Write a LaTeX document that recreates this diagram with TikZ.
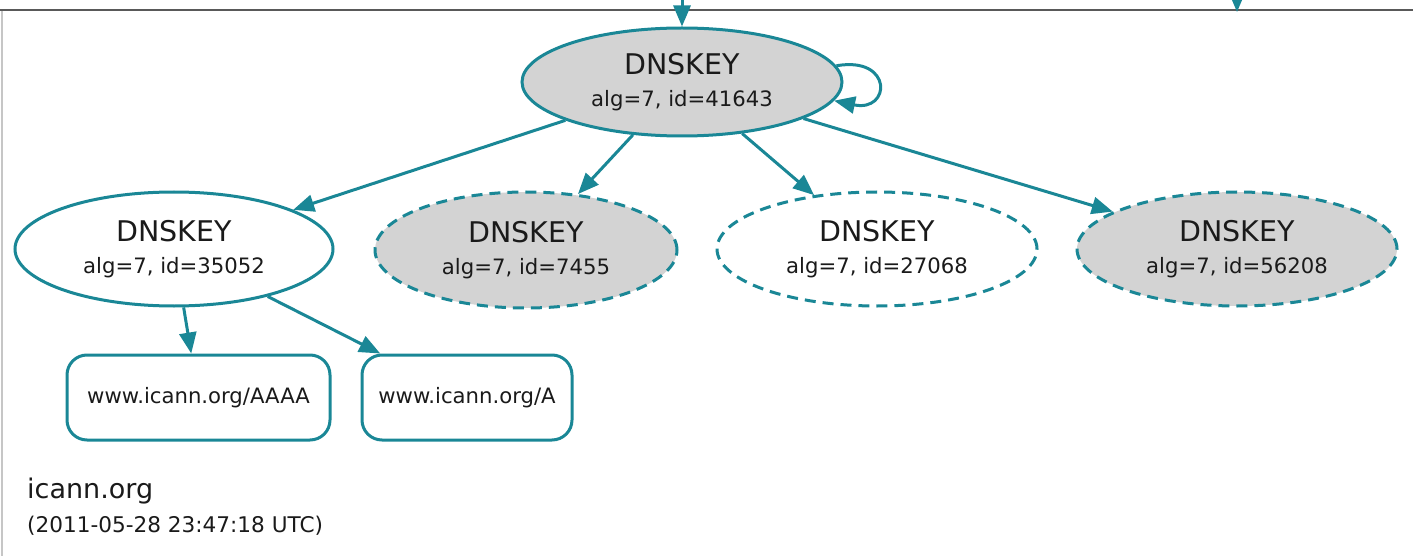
\documentclass[tikz,border=0pt]{standalone}
\usepackage{fontspec}
\setmainfont{DejaVu Sans}
\usetikzlibrary{shapes.geometric,arrows.meta}
\definecolor{teal1}{HTML}{1A8796}
\definecolor{fillg}{HTML}{D3D3D3}
\definecolor{txt}{HTML}{1A1A1A}
\tikzset{
  key/.style={ellipse, draw=teal1, line width=3pt, inner sep=0pt, text=txt,
    align=center, font=\fontsize{21.2}{32}\selectfont},
  keysolid/.style={key},
  keydash/.style={key, dash pattern=on 11pt off 7pt},
  grayfill/.style={fill=fillg},
  rrset/.style={rectangle, rounded corners=20pt, draw=teal1, line width=3pt,
    minimum height=85pt, inner sep=0pt, text=txt, font=\fontsize{21.2}{25}\selectfont},
  edge/.style={draw=teal1, line width=3pt, -{Triangle[length=21pt,width=17pt]}},
}
\newcommand{\klabel}[1]{{\fontsize{28.5}{32}\selectfont DNSKEY}\\alg=7, id=#1}
\begin{document}
\begin{tikzpicture}[x=1pt,y=-1pt]
\useasboundingbox (0,0) rectangle (1413,556);
\clip (0,0) rectangle (1413,556);
% frame
\draw[line width=2pt, draw=gray!45] (1.5,10) -- (1.5,556);
\draw[line width=2pt, draw=black!65] (0,10) -- (1413,10);

% nodes
\node[keysolid, grayfill, minimum width=320pt, minimum height=108pt] (t) at (682,82) {\klabel{41643}};
\node[keysolid, fill=white, minimum width=318pt, minimum height=114pt] (k1) at (174,249) {\klabel{35052}};
\node[keydash, grayfill, minimum width=302pt, minimum height=116pt] (k2) at (526,250) {\klabel{7455}};
\node[keydash, fill=white, minimum width=320pt, minimum height=114pt] (k3) at (877,249) {\klabel{27068}};
\node[keydash, grayfill, minimum width=320pt, minimum height=114pt] (k4) at (1237,249) {\klabel{56208}};

\node[rrset, minimum width=263pt] (r1) at (198.5,397.5) {www.icann.org/AAAA};
\node[rrset, minimum width=210pt] (r2) at (467,397.5) {www.icann.org/A};

\node[anchor=base west, inner sep=0pt, text=txt, font=\fontsize{27}{30}\selectfont] (zone) at (27,498) {icann.org};
\node[anchor=base west, inner sep=0pt, text=txt, font=\fontsize{21.6}{25}\selectfont] (date) at (27,532) {(2011-05-28 23:47:18 UTC)};

% incoming arrows from above
\coordinate (in1) at (682,-40);
\coordinate (in2) at (1237,-40);
\coordinate (in2end) at (1237,12);
\draw[edge] (in1) -- (t);
\draw[edge] (in2) -- (in2end);

% edges
\draw[edge] (t) -- (k1);
\draw[edge] (t) -- (k2);
\draw[edge] (t) -- (k3);
\draw[edge] (t) -- (k4);
\draw[edge] (t.6) .. controls +(57,-10) and +(57,12) .. (t.-7);
\draw[edge] (k1) -- (r1);
\draw[edge] (k1) -- (r2);
\end{tikzpicture}
\end{document}
